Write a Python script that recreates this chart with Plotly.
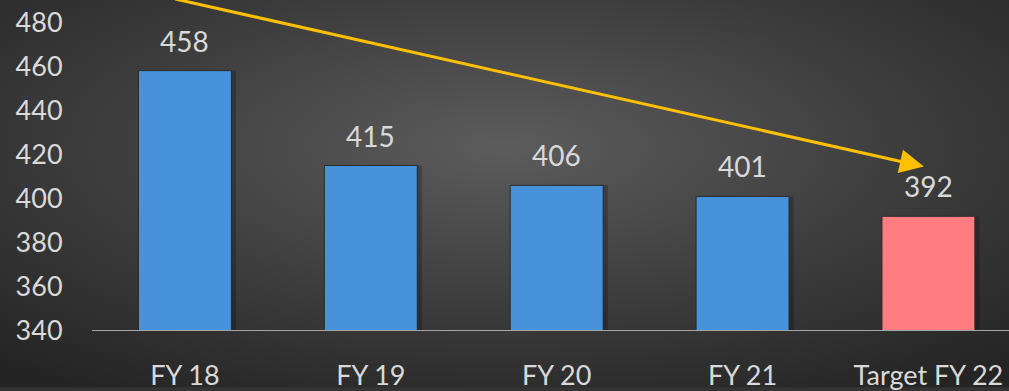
import base64
import plotly.graph_objects as go

# Emissions intensity by fiscal year
categories = ["FY 18", "FY 19", "FY 20", "FY 21", "Target FY 22"]
values = [458, 415, 406, 401, 392]
bar_colors = ["#4792db", "#4792db", "#4792db", "#4792db", "#ff7c80"]
y_ticks = [340, 360, 380, 400, 420, 440, 460, 480]

W, H = 1009, 391
ML, MR, MT, MB = 92, 0, 0, 57
PW, PH = W - ML - MR, H - MT - MB

FONT = "Lato, 'Open Sans', sans-serif"
TXT = "#d9d9d9"

# radial gradient backdrop as an SVG image
svg = f"""<svg xmlns='http://www.w3.org/2000/svg' width='{W}' height='{H}'>
<defs><radialGradient id='g' cx='50%' cy='38%' r='75%' gradientUnits='objectBoundingBox'>
<stop offset='0' stop-color='#5c5c5c'/><stop offset='0.55' stop-color='#3c3c3c'/>
<stop offset='1' stop-color='#242424'/></radialGradient></defs>
<rect width='{W}' height='{H}' fill='url(#g)'/></svg>"""
bg_src = "data:image/svg+xml;base64," + base64.b64encode(svg.encode()).decode()

x_idx = list(range(len(categories)))

fig = go.Figure()
# soft drop shadow behind each bar
fig.add_trace(go.Bar(
    x=x_idx, y=values, offset=-0.25 + 0.025, width=0.5,
    marker=dict(color="rgba(0,0,0,0.22)", line=dict(width=0)),
    hoverinfo="skip",
))
fig.add_trace(go.Bar(
    x=x_idx, y=values, offset=-0.25, width=0.5,
    marker=dict(color=bar_colors, line=dict(color="#2a2a2a", width=1)),
    hoverinfo="skip",
))

annotations = []
for i, v in enumerate(values):
    annotations.append(dict(
        x=i, y=v, xref="x", yref="y", text=str(v), showarrow=False,
        yanchor="bottom", yshift=11, font=dict(family=FONT, size=28, color=TXT),
    ))

# downward trend arrow
annotations.append(dict(
    x=3.975, y=414.5, xref="x", yref="y",
    ax=-0.06, ay=490.6, axref="x", ayref="y",
    text="", showarrow=True, arrowhead=2, arrowsize=1.6, arrowwidth=3,
    arrowcolor="#ffc000",
))

fig.update_layout(
    width=W, height=H,
    margin=dict(l=ML, r=MR, t=MT, b=MB, pad=0),
    paper_bgcolor="#333333", plot_bgcolor="rgba(0,0,0,0)",
    showlegend=False, barmode="overlay",
    images=[dict(source=bg_src, xref="paper", yref="paper",
                 x=-ML / PW, y=1 + MT / PH, sizex=W / PW, sizey=H / PH,
                 xanchor="left", yanchor="top", sizing="stretch", layer="below")],
    xaxis=dict(
        range=[-0.5, (W - 92.6) / 185.75 - 0.5],
        tickvals=x_idx, ticktext=categories,
        showgrid=False, zeroline=False, showline=False,
        ticks="outside", ticklen=21, tickcolor="rgba(0,0,0,0)",
        tickfont=dict(family=FONT, size=27, color=TXT),
        fixedrange=True,
    ),
    yaxis=dict(
        range=[340, 490], tickvals=y_ticks,
        showgrid=False, zeroline=False, showline=False,
        ticks="outside", ticklen=23, tickcolor="rgba(0,0,0,0)",
        tickfont=dict(family=FONT, size=27, color=TXT),
        fixedrange=True,
    ),
    shapes=[dict(type="line", xref="paper", yref="y", x0=0, x1=1, y0=340, y1=340,
                 line=dict(color="#a6a6a6", width=2), layer="above")],
    annotations=annotations,
)

fig.write_html("out.html")
